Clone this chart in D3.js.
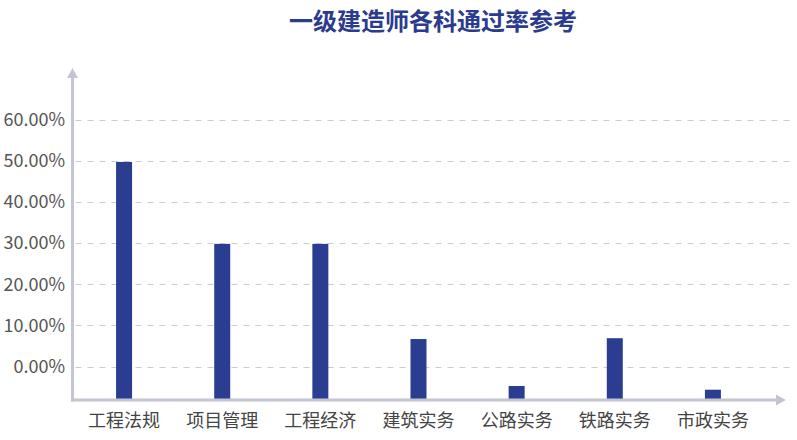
<!DOCTYPE html>
<html>
<head>
<meta charset="utf-8">
<script src="https://cdn.jsdelivr.net/npm/d3@7/dist/d3.min.js"></script>
<style>
  html, body { margin: 0; padding: 0; background: #fff; }
  svg { display: block; font-family: "Noto Sans CJK SC", "Noto Sans", sans-serif; }
</style>
</head>
<body>
<svg id="chart" width="797" height="440"></svg>
<script>
const title = "一级建造师各科通过率参考";
const categories = ["工程法规", "项目管理", "工程经济", "建筑实务", "公路实务", "铁路实务", "市政实务"];
const passRates = [49.7, 29.8, 29.8, 6.7, -4.7, 6.9, -5.6];
const yTicks = [0, 10, 20, 30, 40, 50, 60];
const yDomain = [-8.1, 60];

const svg = d3.select("#chart");
const W = 797, H = 440;
const axisX = 72.5, axisY = 400;

const x = d3.scalePoint().domain(categories).range([75, 762]).padding(0.5);
const y = d3.scaleLinear().domain(yDomain).range([axisY, 119.5]);
const barW = 16;

// title
svg.append("text")
  .attr("x", 433).attr("y", 30)
  .attr("text-anchor", "middle")
  .attr("font-size", 24).attr("font-weight", "bold")
  .attr("fill", "#2b3b8e")
  .text(title);

// gridlines
svg.append("g").selectAll("line").data(yTicks).join("line")
  .attr("x1", axisX + 3).attr("x2", 790)
  .attr("y1", d => Math.round(y(d)) + 0.5).attr("y2", d => Math.round(y(d)) + 0.5)
  .attr("stroke", "#c9ccd6").attr("stroke-width", 1)
  .attr("stroke-dasharray", "6,6");

// y tick labels
svg.append("g").selectAll("text").data(yTicks).join("text")
  .attr("x", 65).attr("y", d => y(d))
  .attr("dy", "0.35em")
  .attr("text-anchor", "end")
  .attr("font-size", 18).attr("fill", "#555")
  .text(d => d3.format(".2f")(d) + "%");

// bars
svg.append("g").selectAll("rect").data(categories).join("rect")
  .attr("x", d => x(d) - barW / 2)
  .attr("width", barW)
  .attr("y", (d, i) => y(passRates[i]))
  .attr("height", (d, i) => y(yDomain[0]) - y(passRates[i]))
  .attr("fill", "#2a3d91");

// axes
const axisColor = "#c3c6d2";
svg.append("line")
  .attr("x1", axisX).attr("x2", axisX)
  .attr("y1", axisY + 1.5).attr("y2", 76)
  .attr("stroke", axisColor).attr("stroke-width", 3);
svg.append("path")
  .attr("d", `M${axisX - 5.5},78 L${axisX},68 L${axisX + 5.5},78 Z`)
  .attr("fill", axisColor);
svg.append("line")
  .attr("x1", axisX - 1.5).attr("x2", 778)
  .attr("y1", axisY).attr("y2", axisY)
  .attr("stroke", axisColor).attr("stroke-width", 3);
svg.append("path")
  .attr("d", `M776,${axisY - 5.5} L786,${axisY} L776,${axisY + 5.5} Z`)
  .attr("fill", axisColor);

// x labels
svg.append("g").selectAll("text").data(categories).join("text")
  .attr("x", d => x(d)).attr("y", 421)
  .attr("dy", "0.35em")
  .attr("text-anchor", "middle")
  .attr("font-size", 18).attr("fill", "#444")
  .text(d => d);
</script>
</body>
</html>
